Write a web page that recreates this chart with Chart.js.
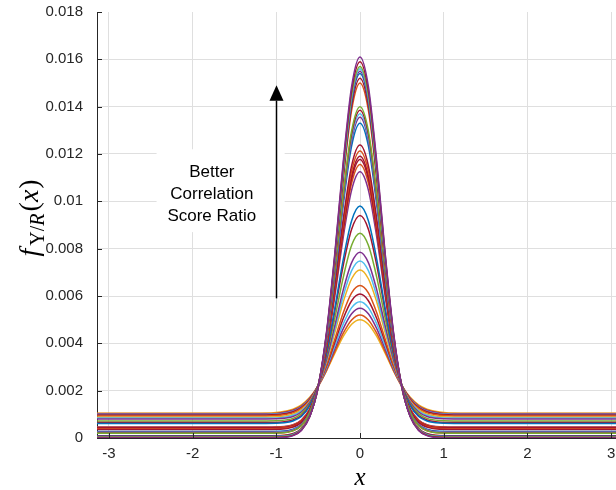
<!DOCTYPE html>
<html>
<head>
<meta charset="utf-8">
<script src="https://cdn.jsdelivr.net/npm/chart.js@4.4.1/dist/chart.umd.min.js"></script>
<style>
  html, body { margin: 0; padding: 0; overflow: hidden; background: #fff; }
  canvas { display: block; }
</style>
</head>
<body>
<canvas id="pdfChart" width="624" height="490"></canvas>
<script>
// sample positions along x (same for every curve)
const xPositions = [-3.1416, -1.2, -0.95, -0.8, -0.7, -0.6, -0.5, -0.4, -0.3, -0.2, -0.1, 0,
                    0.1, 0.2, 0.3, 0.4, 0.5, 0.6, 0.7, 0.8, 0.95, 1.2, 3.1416];
const xTickValues = [-3, -2, -1, 0, 1, 2, 3];
const yTickValues = [0, 0.002, 0.004, 0.006, 0.008, 0.01, 0.012, 0.014, 0.016, 0.018];
const noteLines = ['Better', 'Correlation', 'Score Ratio'];

// tallest peaks (~0.015 - 0.0161)
const groupA = [
  [0, 0, 0.00001, 0.0001, 0.00032, 0.0009, 0.00217, 0.00448, 0.00784, 0.01169, 0.01486, 0.0161, 0.01486, 0.01169, 0.00784, 0.00448, 0.00217, 0.0009, 0.00032, 0.0001, 0.00001, 0, 0],
  [0.00002, 0.00002, 0.00003, 0.00011, 0.00033, 0.00091, 0.00216, 0.00443, 0.00775, 0.01155, 0.01468, 0.0159, 0.01468, 0.01155, 0.00775, 0.00443, 0.00216, 0.00091, 0.00033, 0.00011, 0.00003, 0.00002, 0.00002],
  [0.00004, 0.00004, 0.00005, 0.00013, 0.00035, 0.00092, 0.00215, 0.00439, 0.00767, 0.01141, 0.01449, 0.0157, 0.01449, 0.01141, 0.00767, 0.00439, 0.00215, 0.00092, 0.00035, 0.00013, 0.00005, 0.00004, 0.00004],
  [0.00005, 0.00005, 0.00006, 0.00014, 0.00036, 0.00092, 0.00215, 0.00437, 0.00762, 0.01134, 0.0144, 0.0156, 0.0144, 0.01134, 0.00762, 0.00437, 0.00215, 0.00092, 0.00036, 0.00014, 0.00006, 0.00005, 0.00005],
  [0.00006, 0.00006, 0.00007, 0.00015, 0.00037, 0.00093, 0.00214, 0.00435, 0.00758, 0.01127, 0.01431, 0.0155, 0.01431, 0.01127, 0.00758, 0.00435, 0.00214, 0.00093, 0.00037, 0.00015, 0.00007, 0.00006, 0.00006],
  [0.00007, 0.00007, 0.00008, 0.00016, 0.00037, 0.00093, 0.00214, 0.00433, 0.00754, 0.0112, 0.01422, 0.0154, 0.01422, 0.0112, 0.00754, 0.00433, 0.00214, 0.00093, 0.00037, 0.00016, 0.00008, 0.00007, 0.00007],
  [0.00009, 0.00009, 0.0001, 0.00018, 0.00039, 0.00094, 0.00213, 0.00429, 0.00745, 0.01106, 0.01404, 0.0152, 0.01404, 0.01106, 0.00745, 0.00429, 0.00213, 0.00094, 0.00039, 0.00018, 0.0001, 0.00009, 0.00009],
  [0.0001, 0.0001, 0.00011, 0.00019, 0.0004, 0.00094, 0.00211, 0.00424, 0.00736, 0.01092, 0.01385, 0.015, 0.01385, 0.01092, 0.00736, 0.00424, 0.00211, 0.00094, 0.0004, 0.00019, 0.00011, 0.0001, 0.0001]
];

// second bundle (~0.0133 - 0.014)
const groupB = [
  [0.0002, 0.0002, 0.00021, 0.0003, 0.00052, 0.00107, 0.00221, 0.00423, 0.0071, 0.01034, 0.01298, 0.014, 0.01298, 0.01034, 0.0071, 0.00423, 0.00221, 0.00107, 0.00052, 0.0003, 0.00021, 0.0002, 0.0002],
  [0.00021, 0.00021, 0.00022, 0.00031, 0.00053, 0.00107, 0.0022, 0.00419, 0.00703, 0.01024, 0.01284, 0.01385, 0.01284, 0.01024, 0.00703, 0.00419, 0.0022, 0.00107, 0.00053, 0.00031, 0.00022, 0.00021, 0.00021],
  [0.00023, 0.00023, 0.00024, 0.00033, 0.00054, 0.00108, 0.0022, 0.00416, 0.00697, 0.01013, 0.0127, 0.0137, 0.0127, 0.01013, 0.00697, 0.00416, 0.0022, 0.00108, 0.00054, 0.00033, 0.00024, 0.00023, 0.00023],
  [0.00025, 0.00025, 0.00026, 0.00035, 0.00056, 0.00109, 0.00219, 0.00413, 0.0069, 0.01003, 0.01257, 0.01355, 0.01257, 0.01003, 0.0069, 0.00413, 0.00219, 0.00109, 0.00056, 0.00035, 0.00026, 0.00025, 0.00025],
  [0.00027, 0.00027, 0.00028, 0.00037, 0.00057, 0.00109, 0.00217, 0.00407, 0.00679, 0.00985, 0.01234, 0.0133, 0.01234, 0.00985, 0.00679, 0.00407, 0.00217, 0.00109, 0.00057, 0.00037, 0.00028, 0.00027, 0.00027]
];

// third bundle (~0.0112 - 0.0124)
const groupC = [
  [0.00036, 0.00036, 0.00037, 0.00046, 0.00066, 0.00117, 0.0022, 0.00397, 0.00648, 0.00925, 0.01151, 0.01238, 0.01151, 0.00925, 0.00648, 0.00397, 0.0022, 0.00117, 0.00066, 0.00046, 0.00037, 0.00036, 0.00036],
  [0.00039, 0.00039, 0.0004, 0.00049, 0.00069, 0.00118, 0.00219, 0.00391, 0.00637, 0.00908, 0.01128, 0.01213, 0.01128, 0.00908, 0.00637, 0.00391, 0.00219, 0.00118, 0.00069, 0.00049, 0.0004, 0.00039, 0.00039],
  [0.00041, 0.00041, 0.00042, 0.0005, 0.0007, 0.00118, 0.00217, 0.00386, 0.00626, 0.00892, 0.01108, 0.01191, 0.01108, 0.00892, 0.00626, 0.00386, 0.00217, 0.00118, 0.0007, 0.0005, 0.00042, 0.00041, 0.00041],
  [0.00043, 0.00043, 0.00044, 0.00052, 0.00072, 0.00119, 0.00217, 0.00383, 0.0062, 0.00882, 0.01095, 0.01177, 0.01095, 0.00882, 0.0062, 0.00383, 0.00217, 0.00119, 0.00072, 0.00052, 0.00044, 0.00043, 0.00043],
  [0.00045, 0.00045, 0.00046, 0.00055, 0.00075, 0.00122, 0.00219, 0.00385, 0.00616, 0.00872, 0.01077, 0.01156, 0.01077, 0.00872, 0.00616, 0.00385, 0.00219, 0.00122, 0.00075, 0.00055, 0.00046, 0.00045, 0.00045],
  [0.00047, 0.00047, 0.00048, 0.00056, 0.00076, 0.00122, 0.00216, 0.00377, 0.00601, 0.00849, 0.01048, 0.01125, 0.01048, 0.00849, 0.00601, 0.00377, 0.00216, 0.00122, 0.00076, 0.00056, 0.00048, 0.00047, 0.00047]
];

// lower, wider curves (~0.005 - 0.0098)
const groupD = [
  [0.00061, 0.00061, 0.00063, 0.00072, 0.00091, 0.00136, 0.0022, 0.00361, 0.0055, 0.00755, 0.00918, 0.0098, 0.00918, 0.00755, 0.0055, 0.00361, 0.0022, 0.00136, 0.00091, 0.00072, 0.00063, 0.00061, 0.00061],
  [0.00065, 0.00065, 0.00067, 0.00076, 0.00095, 0.00139, 0.00223, 0.00357, 0.00538, 0.0073, 0.00882, 0.0094, 0.00882, 0.0073, 0.00538, 0.00357, 0.00223, 0.00139, 0.00095, 0.00076, 0.00067, 0.00065, 0.00065],
  [0.00072, 0.00072, 0.00074, 0.00083, 0.00103, 0.00144, 0.00222, 0.00346, 0.00507, 0.00679, 0.00814, 0.00865, 0.00814, 0.00679, 0.00507, 0.00346, 0.00222, 0.00144, 0.00103, 0.00083, 0.00074, 0.00072, 0.00072],
  [0.0008, 0.0008, 0.00082, 0.00091, 0.0011, 0.0015, 0.00222, 0.00332, 0.00476, 0.00626, 0.00741, 0.00785, 0.00741, 0.00626, 0.00476, 0.00332, 0.00222, 0.0015, 0.0011, 0.00091, 0.00082, 0.0008, 0.0008],
  [0.00084, 0.00084, 0.00086, 0.00096, 0.00115, 0.00153, 0.00222, 0.00327, 0.00461, 0.006, 0.00707, 0.00748, 0.00707, 0.006, 0.00461, 0.00327, 0.00222, 0.00153, 0.00115, 0.00096, 0.00086, 0.00084, 0.00084],
  [0.00088, 0.00088, 0.00091, 0.00101, 0.00119, 0.00155, 0.00223, 0.00322, 0.00447, 0.00575, 0.00673, 0.0071, 0.00673, 0.00575, 0.00447, 0.00322, 0.00223, 0.00155, 0.00119, 0.00101, 0.00091, 0.00088, 0.00088],
  [0.00093, 0.00093, 0.00096, 0.00106, 0.00125, 0.0016, 0.0022, 0.00308, 0.00418, 0.00529, 0.00613, 0.00644, 0.00613, 0.00529, 0.00418, 0.00308, 0.0022, 0.0016, 0.00125, 0.00106, 0.00096, 0.00093, 0.00093],
  [0.00097, 0.00097, 0.001, 0.00111, 0.00129, 0.00164, 0.00222, 0.00304, 0.00405, 0.00505, 0.0058, 0.00608, 0.0058, 0.00505, 0.00405, 0.00304, 0.00222, 0.00164, 0.00129, 0.00111, 0.001, 0.00097, 0.00097],
  [0.00099, 0.00099, 0.00102, 0.00113, 0.00132, 0.00165, 0.0022, 0.00297, 0.0039, 0.00482, 0.00551, 0.00576, 0.00551, 0.00482, 0.0039, 0.00297, 0.0022, 0.00165, 0.00132, 0.00113, 0.00102, 0.00099, 0.00099],
  [0.00101, 0.00101, 0.00105, 0.00116, 0.00134, 0.00167, 0.0022, 0.00292, 0.00378, 0.00462, 0.00525, 0.00548, 0.00525, 0.00462, 0.00378, 0.00292, 0.0022, 0.00167, 0.00134, 0.00116, 0.00105, 0.00101, 0.00101],
  [0.00103, 0.00103, 0.00107, 0.00119, 0.00136, 0.00169, 0.00218, 0.00286, 0.00366, 0.00443, 0.00499, 0.0052, 0.00499, 0.00443, 0.00366, 0.00286, 0.00218, 0.00169, 0.00136, 0.00119, 0.00107, 0.00103, 0.00103],
  [0.00105, 0.00105, 0.0011, 0.00122, 0.0014, 0.00172, 0.0022, 0.00284, 0.00358, 0.00429, 0.00481, 0.005, 0.00481, 0.00429, 0.00358, 0.00284, 0.0022, 0.00172, 0.0014, 0.00122, 0.0011, 0.00105, 0.00105]
];

// matlab default line colours
const C = {
  blue: '#0072BD', orange: '#D95319', yellow: '#EDB120', purple: '#7E2F8E',
  green: '#77AC30', lightblue: '#4DBEEE', red: '#A2142F'
};
const groupAColors = [C.purple, C.red, C.green, C.lightblue, C.purple, C.blue, C.red, C.orange];
const groupBColors = [C.green, C.red, C.lightblue, C.purple, C.blue];
const groupCColors = [C.red, C.orange, C.red, C.red, C.orange, C.purple];
const groupDColors = [C.blue, C.red, C.green, C.purple, C.lightblue, C.yellow, C.orange, C.red,
                      C.lightblue, C.purple, C.orange, C.yellow];

const datasets = [];
[[groupA, groupAColors], [groupB, groupBColors], [groupC, groupCColors], [groupD, groupDColors]]
  .forEach(([rows, colors]) => {
    rows.forEach((row, i) => {
      datasets.push({
        data: row.map((y, k) => ({ x: xPositions[k], y: y })),
        borderColor: colors[i],
        borderWidth: 1.5,
        pointRadius: 0,
        cubicInterpolationMode: 'monotone',
        fill: false
      });
    });
  });

const axisColor = '#262626';
const gridColor = '#dfdfdf';
const tickFont = { family: 'Liberation Sans', size: 15 };

// inward tick marks, annotation box + arrow, and the y label with subscript
const extrasPlugin = {
  id: 'extras',
  afterDatasetsDraw(chart) {
    const ctx = chart.ctx;
    const xs = chart.scales.x, ys = chart.scales.y;
    const area = chart.chartArea;
    ctx.save();

    // ticks pointing into the plot
    ctx.strokeStyle = axisColor;
    ctx.lineWidth = 1;
    ctx.beginPath();
    yTickValues.forEach(v => {
      const py = Math.round(ys.getPixelForValue(v)) + 0.5;
      ctx.moveTo(area.left, py);
      ctx.lineTo(area.left + 5, py);
    });
    xTickValues.forEach(v => {
      const px = Math.round(xs.getPixelForValue(v)) + 0.5;
      ctx.moveTo(px, area.bottom);
      ctx.lineTo(px, area.bottom - 5);
    });
    ctx.stroke();

    // white label box with text
    const bx0 = xs.getPixelForValue(-2.43), bx1 = xs.getPixelForValue(-0.9);
    const by0 = ys.getPixelForValue(0.0122), by1 = ys.getPixelForValue(0.0087);
    ctx.fillStyle = '#fff';
    ctx.fillRect(bx0, by0, bx1 - bx0, by1 - by0);
    ctx.fillStyle = '#000';
    ctx.font = '17px "Liberation Sans", Arial, sans-serif';
    ctx.textAlign = 'center';
    ctx.textBaseline = 'middle';
    const tx = xs.getPixelForValue(-1.77);
    const lineVals = [0.01124, 0.01031, 0.00938];
    noteLines.forEach((t, i) => ctx.fillText(t, tx, ys.getPixelForValue(lineVals[i])));

    // arrow at x = -1
    const ax = Math.round(xs.getPixelForValue(-1)) + 0.5;
    const aBottom = ys.getPixelForValue(0.0059);
    const aTip = ys.getPixelForValue(0.0149);
    const aBase = ys.getPixelForValue(0.01425);
    ctx.strokeStyle = '#000';
    ctx.lineWidth = 1.5;
    ctx.beginPath();
    ctx.moveTo(ax, aBottom);
    ctx.lineTo(ax, aBase);
    ctx.stroke();
    ctx.beginPath();
    ctx.moveTo(ax, aTip);
    ctx.lineTo(ax - 7, aBase);
    ctx.lineTo(ax + 7, aBase);
    ctx.closePath();
    ctx.fill();

    // y axis label  f_{Υ/R}(x)
    const cy = ys.getPixelForValue(0.0093);
    ctx.translate(30, cy);
    ctx.rotate(-Math.PI / 2);
    ctx.textAlign = 'left';
    ctx.textBaseline = 'alphabetic';
    const big = 'italic 28px "Liberation Serif", "DejaVu Serif", serif';
    const bigUp = '28px "Liberation Serif", "DejaVu Serif", serif';
    const small = '20px "Liberation Serif", "DejaVu Serif", serif';
    const smallIt = 'italic 20px "Liberation Serif", "DejaVu Serif", serif';
    const parts = [
      { t: 'f', f: big, dy: 0, gap: 3 },
      { t: 'Υ', f: small, dy: 6, gap: 0 },
      { t: '/', f: small, dy: 6, gap: 0 },
      { t: 'R', f: smallIt, dy: 6, gap: 2 },
      { t: '(', f: bigUp, dy: 0, gap: 0 },
      { t: 'x', f: big, dy: 0, gap: 1 },
      { t: ')', f: bigUp, dy: 0, gap: 0 }
    ];
    let total = 0;
    parts.forEach(p => { ctx.font = p.f; p.w = ctx.measureText(p.t).width; total += p.w + p.gap; });
    let cx = -total / 2;
    ctx.fillStyle = '#000';
    parts.forEach(p => {
      ctx.font = p.f;
      ctx.fillText(p.t, cx, 8 + p.dy);
      cx += p.w + p.gap;
    });
    ctx.restore();
  }
};

new Chart(document.getElementById('pdfChart').getContext('2d'), {
  type: 'line',
  data: { datasets: datasets },
  options: {
    responsive: false,
    animation: false,
    layout: { padding: { top: 12, right: 1, left: 0, bottom: 0 } },
    plugins: { legend: { display: false }, tooltip: { enabled: false } },
    scales: {
      x: {
        type: 'linear',
        min: -Math.PI,
        max: Math.PI,
        afterBuildTicks: axis => { axis.ticks = xTickValues.map(v => ({ value: v })); },
        afterFit: axis => { axis.height = 52; axis.paddingLeft = 0; axis.paddingRight = 0; },
        grid: { color: gridColor, drawTicks: false },
        border: { color: axisColor, width: 1 },
        ticks: { padding: 7, color: axisColor, font: tickFont, maxRotation: 0, callback: v => String(v) },
        title: {
          display: true, text: 'x', color: '#000',
          font: { family: 'Liberation Serif', style: 'italic', size: 25 },
          padding: { top: 0, bottom: -3 }
        }
      },
      y: {
        min: 0,
        max: 0.018,
        afterBuildTicks: axis => { axis.ticks = yTickValues.map(v => ({ value: v })); },
        afterFit: axis => { axis.width = 97; axis.paddingTop = 0; axis.paddingBottom = 0; },
        grid: {
          color: c => (c.tick && c.tick.value === 0.018) ? 'rgba(0,0,0,0)' : gridColor,
          drawTicks: false
        },
        border: { color: axisColor, width: 1 },
        ticks: { padding: 14, color: axisColor, font: tickFont, callback: v => String(+v.toFixed(3)) }
      }
    }
  },
  plugins: [extrasPlugin]
});
</script>
</body>
</html>
